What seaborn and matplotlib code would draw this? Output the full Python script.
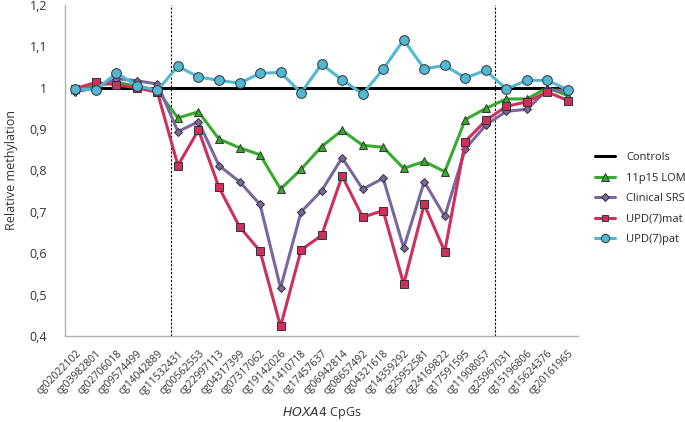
import numpy as np
import pandas as pd
import seaborn as sns
import matplotlib.pyplot as plt
from matplotlib.ticker import FuncFormatter

# CpG sites (x categories)
cpgs = ['cg02022102', 'cg03982801', 'cg02706018', 'cg09574499', 'cg14042889',
        'cg11532431', 'cg00562553', 'cg22997113', 'cg04317399', 'cg07317062',
        'cg19142026', 'cg11410718', 'cg17457637', 'cg06942814', 'cg08657492',
        'cg04321618', 'cg14359292', 'cg25952581', 'cg24169822', 'cg17591595',
        'cg11908057', 'cg25967031', 'cg15196806', 'cg15624376', 'cg20161965']

controls = [1.0] * len(cpgs)
lom_11p15 = [1.000, 1.005, 1.014, 1.003, 0.993, 0.927, 0.942, 0.876, 0.855, 0.838,
             0.755, 0.803, 0.858, 0.897, 0.861, 0.856, 0.805, 0.822, 0.797, 0.923,
             0.950, 0.973, 0.973, 1.000, 0.981]
clinical_srs = [0.990, 1.000, 1.022, 1.017, 1.009, 0.894, 0.918, 0.812, 0.773, 0.718,
                0.516, 0.700, 0.751, 0.831, 0.755, 0.781, 0.613, 0.773, 0.689, 0.852,
                0.910, 0.943, 0.948, 0.995, 0.993]
upd7_mat = [0.998, 1.013, 1.007, 1.000, 0.989, 0.812, 0.898, 0.759, 0.664, 0.605,
            0.423, 0.608, 0.643, 0.787, 0.687, 0.703, 0.525, 0.718, 0.604, 0.870,
            0.921, 0.955, 0.966, 0.990, 0.969]
upd7_pat = [0.998, 0.994, 1.036, 1.005, 0.994, 1.052, 1.026, 1.018, 1.011, 1.035,
            1.037, 0.988, 1.057, 1.019, 0.985, 1.045, 1.116, 1.046, 1.054, 1.024,
            1.042, 0.997, 1.018, 1.018, 0.995]

x = np.arange(len(cpgs))

sns.set_style('white')
plt.rcParams['font.family'] = ['Open Sans', 'DejaVu Sans']

fig = plt.figure(figsize=(6.85, 4.22), dpi=100)
ax = fig.add_axes([0.095, 0.204, 0.749, 0.784])

# controls line
sns.lineplot(x=x, y=controls, ax=ax, color='black', linewidth=2.2,
             label='Controls', zorder=2)

series = [
    ('11p15 LOM', lom_11p15, '#36ab2e', '^', 6),
    ('Clinical SRS', clinical_srs, '#7b67a0', 'D', 4.5),
    ('UPD(7)mat', upd7_mat, '#cf2f5d', 's', 5.5),
    ('UPD(7)pat', upd7_pat, '#50b8d2', 'o', 7),
]
for i, (name, vals, col, mk, ms) in enumerate(series):
    sns.lineplot(x=x, y=vals, ax=ax, color=col, linewidth=2.2, marker=mk,
                 markersize=ms, markeredgecolor='#333333', markeredgewidth=0.7,
                 markerfacecolor=col, label=name, zorder=3 + i)

# region separators
for xv in [4.65, 20.45]:
    ax.axvline(xv, color='black', linestyle=(0, (2, 1.5)), linewidth=0.8, zorder=1)

ax.set_xlim(-0.5, len(cpgs) - 0.5)
ax.set_ylim(0.4, 1.2)
ax.set_yticks(np.arange(0.4, 1.21, 0.1))
ax.yaxis.set_major_formatter(FuncFormatter(
    lambda v, p: ('%g' % round(v, 1)).replace('.', ',')))
ax.set_xticks(x)
ax.set_xticklabels(cpgs, rotation=45, ha='right', rotation_mode='anchor',
                   fontsize=7.5, color='#333333')
ax.tick_params(axis='y', labelsize=9, colors='#333333', length=0, pad=13)
ax.tick_params(axis='x', length=0, pad=9)

for s in ['top', 'right']:
    ax.spines[s].set_visible(False)
for s in ['left', 'bottom']:
    ax.spines[s].set_color('#b0b0b0')
    ax.spines[s].set_linewidth(1.0)

ax.set_ylabel('Relative methylation', fontsize=9, color='#333333', labelpad=8)
ax.set_xlabel('$\\it{HOXA4}$ CpGs', fontsize=9, color='#333333', labelpad=5)

ax.legend(loc='center left', bbox_to_anchor=(1.033, 0.415), frameon=False,
          fontsize=8, handlelength=1.8, labelspacing=0.85, handletextpad=1.0,
          borderpad=0, borderaxespad=0, markerscale=0.85)

fig.savefig('out.png', dpi=100)
